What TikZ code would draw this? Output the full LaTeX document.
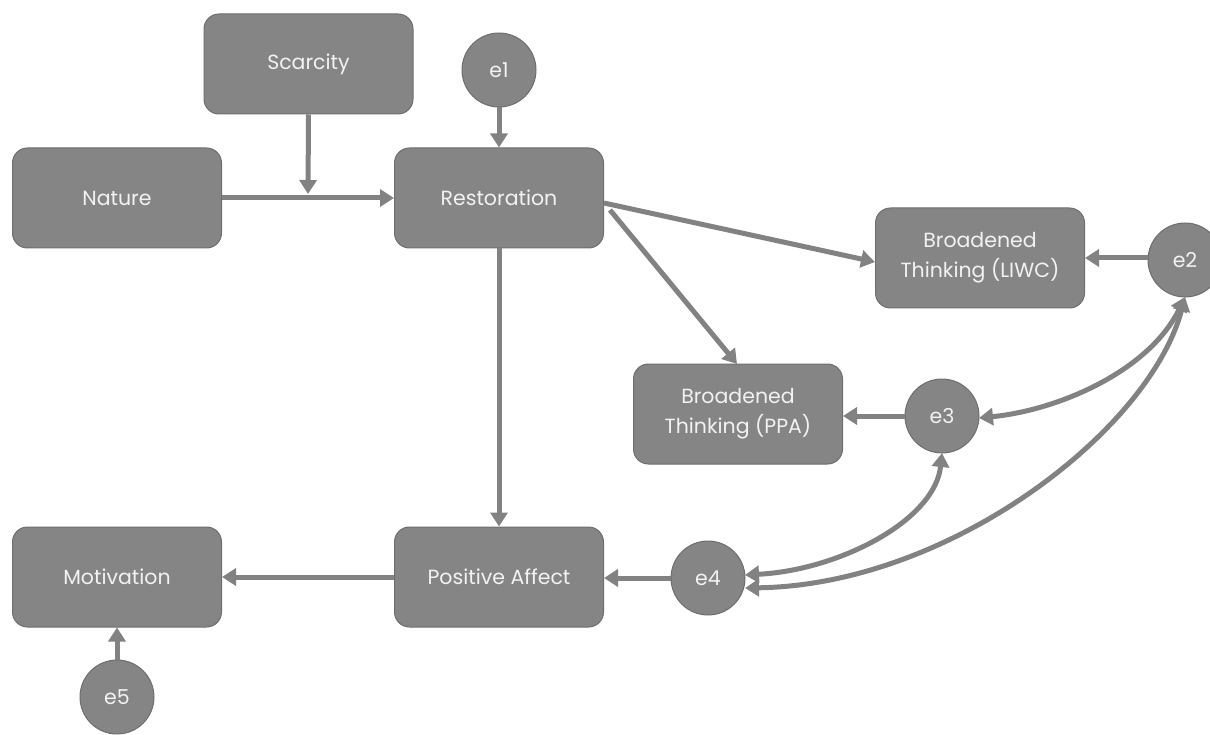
\documentclass[tikz,border=0pt]{standalone}
\usepackage{fontspec}
\setmainfont{Poppins}
\usetikzlibrary{arrows.meta}
\definecolor{boxfill}{RGB}{133,133,133}
\definecolor{boxline}{RGB}{110,110,110}
\definecolor{arrowc}{RGB}{130,130,130}
\definecolor{txt}{RGB}{242,242,242}
\tikzset{
  box/.style={draw=boxline, line width=1pt, fill=boxfill, rounded corners=15pt,
    minimum width=209pt, minimum height=100pt, text=txt, align=center,
    font=\fontsize{20.5}{30}\selectfont, inner sep=0pt},
  err/.style={draw=boxline, line width=1pt, fill=boxfill, circle, minimum size=74pt,
    text=txt, font=\fontsize{20.5}{24}\selectfont, inner sep=0pt},
  conn/.style={draw=arrowc, line width=5pt, -{Triangle[length=14pt,width=17pt]}},
  cov/.style={draw=arrowc, line width=5pt, {Triangle[length=14pt,width=17pt]}-{Triangle[length=14pt,width=17pt]}}
}
\begin{document}
\begin{tikzpicture}[x=1pt,y=-1pt]
\useasboundingbox (0,0) rectangle (1210,735);
\node[box] (scar) at (308.5,64) {Scarcity};
\node[box] (nat) at (117,198) {Nature};
\node[box] (rest) at (499,198) {Restoration};
\node[err] (e1) at (499,70) {e1};
\node[box] (liwc) at (980,258) {Broadened\\Thinking (LIWC)};
\node[err] (e2) at (1185,260) {e2};
\node[box] (ppa) at (738,414) {Broadened\\Thinking (PPA)};
\node[err] (e3) at (942,416) {e3};
\node[box] (pa) at (499,577) {Positive Affect};
\node[err] (e4) at (708,578) {e4};
\node[box] (mot) at (117,577) {Motivation};
\node[err] (e5) at (117,697) {e5};
\coordinate (mod) at (308,194);
\coordinate (rs1) at (604,203);
\coordinate (rs2) at (610,210);
\coordinate (e2b) at (1185,297);
\coordinate (e4r1) at (745,575);
\coordinate (e4r2) at (745,588);
\coordinate (e3r) at (979,418);
\coordinate (e3b) at (942,453);
\path[conn] (scar.south) -- (mod);
\path[conn] (nat.east) -- (rest.west);
\path[conn] (e1.south) -- (rest.north);
\path[conn] (rs1) -- (liwc.west |- 0,262);
\path[conn] (rs2) -- (737,364);
\path[conn] (rest.south) -- (pa.north);
\path[conn] (e2.west |- 0,258) -- (liwc.east |- 0,258);
\path[conn] (e3.west) -- (ppa.east |- e3.west);
\path[conn] (e4.west) -- (pa.east |- e4.west);
\path[conn] (pa.west) -- (mot.east);
\path[conn] (e5.north) -- (mot.south);
\path[cov] (e2b) .. controls (1150,370) and (1060,410) .. (e3r);
\path[cov] (e3b) .. controls (935,520) and (840,570) .. (e4r1);
\path[cov] (e2b) .. controls (1150,430) and (950,585) .. (e4r2);
\end{tikzpicture}
\end{document}
